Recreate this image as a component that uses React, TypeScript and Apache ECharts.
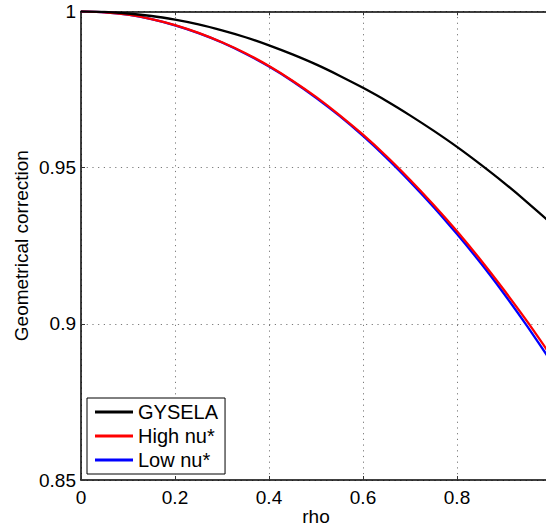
import React, { useEffect, useRef } from "react";
import * as echarts from "echarts";

const rho = [0, 0.05, 0.1, 0.15, 0.2, 0.25, 0.3, 0.35, 0.4, 0.45, 0.5, 0.55, 0.6, 0.65, 0.7, 0.75, 0.8, 0.85, 0.9, 0.95, 1.0];
const gysela = [1.0, 0.9998, 0.9993, 0.9985, 0.9973, 0.9958, 0.9939, 0.9917, 0.9891, 0.9862, 0.983, 0.9794, 0.9755, 0.9713, 0.9667, 0.9618, 0.9566, 0.951, 0.9451, 0.9388, 0.9322];
const highNu = [1.0, 0.9997, 0.9989, 0.9975, 0.9956, 0.9931, 0.9901, 0.9866, 0.9825, 0.9778, 0.9726, 0.9668, 0.9605, 0.9536, 0.9461, 0.9381, 0.9296, 0.9205, 0.9108, 0.9006, 0.8898];
const lowNu = [1.0, 0.9997, 0.9989, 0.9975, 0.9955, 0.993, 0.99, 0.9864, 0.9823, 0.9776, 0.9723, 0.9665, 0.9601, 0.9531, 0.9455, 0.9374, 0.9287, 0.9195, 0.9096, 0.8991, 0.888];
const seriesNames = ["GYSELA", "High nu*", "Low nu*"];

const FONT = "'Liberation Sans', Arial, Helvetica, sans-serif";

export default function App() {
  const ref = useRef<HTMLDivElement>(null);
  useEffect(() => {
    if (!ref.current) return;
    const chart = echarts.init(ref.current, undefined, { renderer: "svg" });
    const pairs = (ys: number[]) => rho.map((x, i) => [x, ys[i]]);
    const gridLine = { show: true, lineStyle: { color: "#7a7a7a", width: 1, type: [1.2, 4.5] as any } };
    chart.setOption({
      animation: false,
      backgroundColor: "#ffffff",
      textStyle: { fontFamily: FONT },
      grid: { left: 81, top: 11.3, right: -5, bottom: 49, containLabel: false, outerBoundsMode: "none" },
      legend: {
        data: seriesNames,
        orient: "vertical",
        left: 87,
        top: 398,
        backgroundColor: "#ffffff",
        borderColor: "#000000",
        borderWidth: 1,
        borderRadius: 0,
        padding: [4, 7, 4, 8],
        itemWidth: 38,
        itemHeight: 3,
        itemGap: 4,
        icon: "rect",
        textStyle: { fontFamily: FONT, fontSize: 20, color: "#000", lineHeight: 20, padding: [0, 0, 0, 0] },
      },
      xAxis: [
        {
          type: "value",
          min: 0,
          max: 1,
          interval: 0.2,
          name: "rho",
          nameLocation: "middle",
          nameGap: 26,
          nameMoveOverlap: false,
          nameTextStyle: { fontFamily: FONT, fontSize: 19, lineHeight: 20, color: "#000" },
          axisLine: { show: true, onZero: false, lineStyle: { color: "#000", width: 1.5 } },
          axisTick: { show: true, inside: true, length: 4, lineStyle: { color: "#333", width: 1 } },
          axisLabel: { fontFamily: FONT, fontSize: 19, color: "#000", margin: 8, showMaxLabel: false },
          splitLine: gridLine,
        },
        {
          type: "value",
          position: "top",
          min: 0,
          max: 1,
          interval: 0.2,
          axisLine: { show: true, onZero: false, lineStyle: { color: "#000", width: 1.5 } },
          axisTick: { show: true, inside: true, length: 4, lineStyle: { color: "#333", width: 1 } },
          axisLabel: { show: false },
          splitLine: { show: false },
        },
      ],
      yAxis: [
        {
          type: "value",
          min: 0.85,
          max: 1,
          interval: 0.05,
          name: "Geometrical correction",
          nameLocation: "middle",
          nameGap: 50,
          nameMoveOverlap: false,
          nameTextStyle: { fontFamily: FONT, fontSize: 19, color: "#000" },
          axisLine: { show: true, onZero: false, lineStyle: { color: "#000", width: 1.5 } },
          axisTick: { show: true, inside: true, length: 4, lineStyle: { color: "#333", width: 1 } },
          axisLabel: {
            fontFamily: FONT,
            fontSize: 19,
            color: "#000",
            margin: 5,
            formatter: (v: number) => String(Math.round(v * 100) / 100),
          },
          splitLine: gridLine,
        },
      ],
      series: [
        {
          name: "Low nu*",
          type: "line",
          data: pairs(lowNu),
          showSymbol: false,
          symbol: "none",
          smooth: 0.2,
          lineStyle: { color: "#0000ff", width: 2.3 },
          itemStyle: { color: "#0000ff" },
          z: 2,
        },
        {
          name: "High nu*",
          type: "line",
          data: pairs(highNu),
          showSymbol: false,
          symbol: "none",
          smooth: 0.2,
          lineStyle: { color: "#ff0000", width: 2.3 },
          itemStyle: { color: "#ff0000" },
          z: 3,
        },
        {
          name: "GYSELA",
          type: "line",
          data: pairs(gysela),
          showSymbol: false,
          symbol: "none",
          smooth: 0.2,
          lineStyle: { color: "#000000", width: 2.3 },
          itemStyle: { color: "#000000" },
          z: 4,
        },
      ],
    });
    return () => chart.dispose();
  }, []);
  return (
    <div
      ref={ref}
      style={{ position: "fixed", left: 0, top: 0, width: 546, height: 529, background: "#fff" }}
    />
  );
}
